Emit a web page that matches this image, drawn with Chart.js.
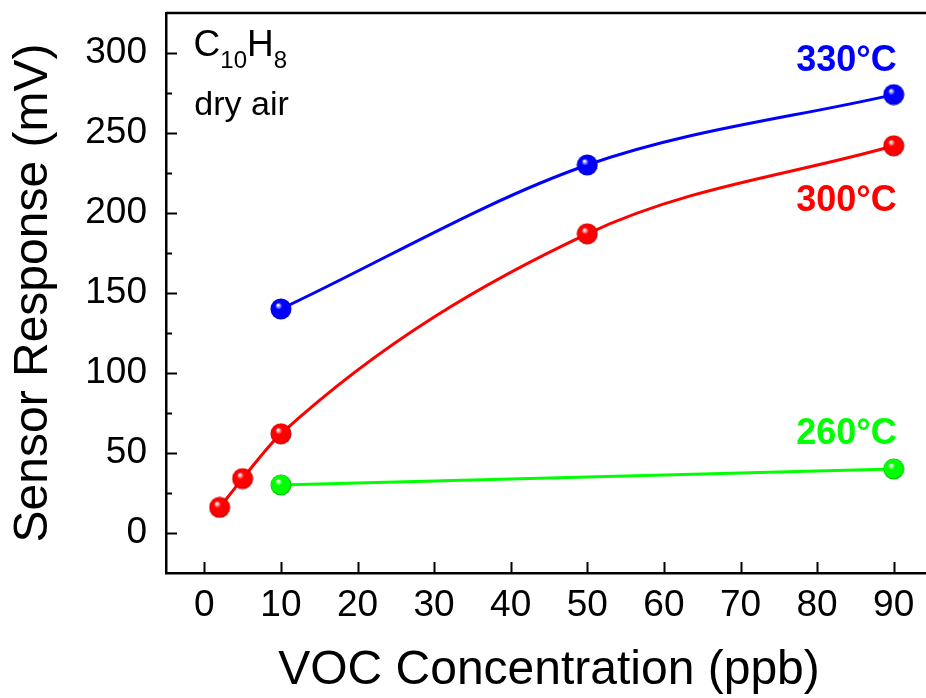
<!DOCTYPE html>
<html>
<head>
<meta charset="utf-8">
<script src="https://cdn.jsdelivr.net/npm/chart.js@4.4.1/dist/chart.umd.min.js"></script>
<style>
  html, body { margin: 0; padding: 0; background: #fff; overflow: hidden; }
  #wrap { width: 945px; height: 698px; }
</style>
</head>
<body>
<div id="wrap"><canvas id="chart" width="945" height="698"></canvas></div>
<script>
// data
const conc300 = [2, 5, 10, 50, 90];
const resp300 = [16, 34, 62, 187, 242];
const conc330 = [10, 50, 90];
const resp330 = [140, 230, 274];
const conc260 = [10, 90];
const resp260 = [30, 40];

const xTicks = [0, 10, 20, 30, 40, 50, 60, 70, 80, 90];
const yTicks = [0, 50, 100, 150, 200, 250, 300];
const yMinor = [25, 75, 125, 175, 225, 275];

const FONT = "'Liberation Sans', Arial, sans-serif";
const BLUE = '#0000ff', RED = '#ff0000', GREEN = '#00ff00';

// shaded ball used as marker
function ball(color, dark) {
    const c = document.createElement('canvas');
    c.width = 22; c.height = 22;
    const g = c.getContext('2d');
    const grad = g.createRadialGradient(8, 7, 0.5, 11, 11, 10.5);
    grad.addColorStop(0, '#ffffff');
    grad.addColorStop(0.3, color);
    grad.addColorStop(0.85, color);
    grad.addColorStop(1, dark);
    g.fillStyle = grad;
    g.beginPath();
    g.arc(11, 11, 10.5, 0, Math.PI * 2);
    g.fill();
    return c;
}

function pts(xs, ys) {
    return xs.map((x, i) => ({ x: x, y: ys[i] }));
}

function series(label, xs, ys, color, dark) {
    return {
        label: label,
        data: pts(xs, ys),
        borderColor: color,
        borderWidth: 3,
        cubicInterpolationMode: 'monotone',
        pointStyle: ball(color, dark),
        pointRadius: 10,
        fill: false
    };
}

// frame, inward ticks and the text labels
const extras = {
    id: 'extras',
    afterDraw(chart) {
        const ctx = chart.ctx;
        const a = chart.chartArea;
        const xs = chart.scales.x, ys = chart.scales.y;
        ctx.save();
        ctx.strokeStyle = '#000';
        ctx.lineWidth = 2.5;
        ctx.beginPath();
        ctx.moveTo(a.left, a.top);
        ctx.lineTo(a.right + 5, a.top);
        ctx.stroke();

        ctx.lineWidth = 2;
        ctx.beginPath();
        xTicks.forEach(v => {
            const px = Math.round(xs.getPixelForValue(v)) + 0.5;
            ctx.moveTo(px, a.bottom);
            ctx.lineTo(px, a.bottom - 11);
        });
        yTicks.forEach(v => {
            const py = Math.round(ys.getPixelForValue(v)) + 0.5;
            ctx.moveTo(a.left, py);
            ctx.lineTo(a.left + 11, py);
        });
        yMinor.forEach(v => {
            const py = Math.round(ys.getPixelForValue(v)) + 0.5;
            ctx.moveTo(a.left, py);
            ctx.lineTo(a.left + 6, py);
        });
        ctx.stroke();

        // temperature labels
        ctx.textAlign = 'right';
        ctx.textBaseline = 'alphabetic';
        ctx.font = 'bold 36px ' + FONT;
        [['330°C', 289, BLUE], ['300°C', 201.5, RED], ['260°C', 55.5, GREEN]].forEach(t => {
            ctx.fillStyle = t[2];
            ctx.fillText(t[0], xs.getPixelForValue(90.4), ys.getPixelForValue(t[1]));
        });

        // compound name
        ctx.fillStyle = '#000';
        ctx.textAlign = 'left';
        let x = xs.getPixelForValue(-1.4);
        const base = ys.getPixelForValue(298);
        [['C', 37, 0], ['10', 24, 12], ['H', 37, 0], ['8', 24, 12]].forEach(p => {
            ctx.font = p[1] + 'px ' + FONT;
            ctx.fillText(p[0], x, base + p[2]);
            x += ctx.measureText(p[0]).width;
        });
        ctx.font = '34px ' + FONT;
        ctx.fillText('dry air', xs.getPixelForValue(-1.3), ys.getPixelForValue(261));
        ctx.restore();
    }
};

new Chart(document.getElementById('chart'), {
    type: 'line',
    data: {
        datasets: [
            series('260°C', conc260, resp260, GREEN, '#00b000'),
            series('330°C', conc330, resp330, BLUE, '#0000b0'),
            series('300°C', conc300, resp300, RED, '#b00000')
        ]
    },
    options: {
        responsive: false,
        animation: false,
        layout: { padding: { top: 9, right: 10.5, left: 0, bottom: 0 } },
        plugins: {
            legend: { display: false },
            tooltip: { enabled: false }
        },
        scales: {
            x: {
                type: 'linear',
                position: 'bottom',
                min: -5,
                max: 95,
                afterBuildTicks: s => { s.ticks = xTicks.map(v => ({ value: v })); },
                afterFit: s => { s.height = 125; s.paddingLeft = 0; s.paddingRight = 0; },
                grid: { display: false, drawTicks: false },
                border: { display: true, color: '#000', width: 2.5 },
                ticks: {
                    color: '#000',
                    font: { family: FONT, size: 37 },
                    padding: 11,
                    autoSkip: false,
                    maxRotation: 0
                },
                title: {
                    display: true,
                    text: 'VOC Concentration (ppb)',
                    color: '#000',
                    font: { family: FONT, size: 48 },
                    padding: { top: 0, bottom: -2 }
                }
            },
            y: {
                min: -25,
                max: 325,
                afterBuildTicks: s => { s.ticks = yTicks.map(v => ({ value: v })); },
                afterFit: s => { s.width = 166; s.paddingTop = 0; s.paddingBottom = 0; },
                grid: { display: false, drawTicks: false },
                border: { display: true, color: '#000', width: 2.5 },
                ticks: {
                    color: '#000',
                    font: { family: FONT, size: 37 },
                    padding: 19
                },
                title: {
                    display: true,
                    text: 'Sensor Response (mV)',
                    color: '#000',
                    font: { family: FONT, size: 48 },
                    padding: { top: 5, bottom: 0 }
                }
            }
        }
    },
    plugins: [extras]
});
</script>
</body>
</html>
